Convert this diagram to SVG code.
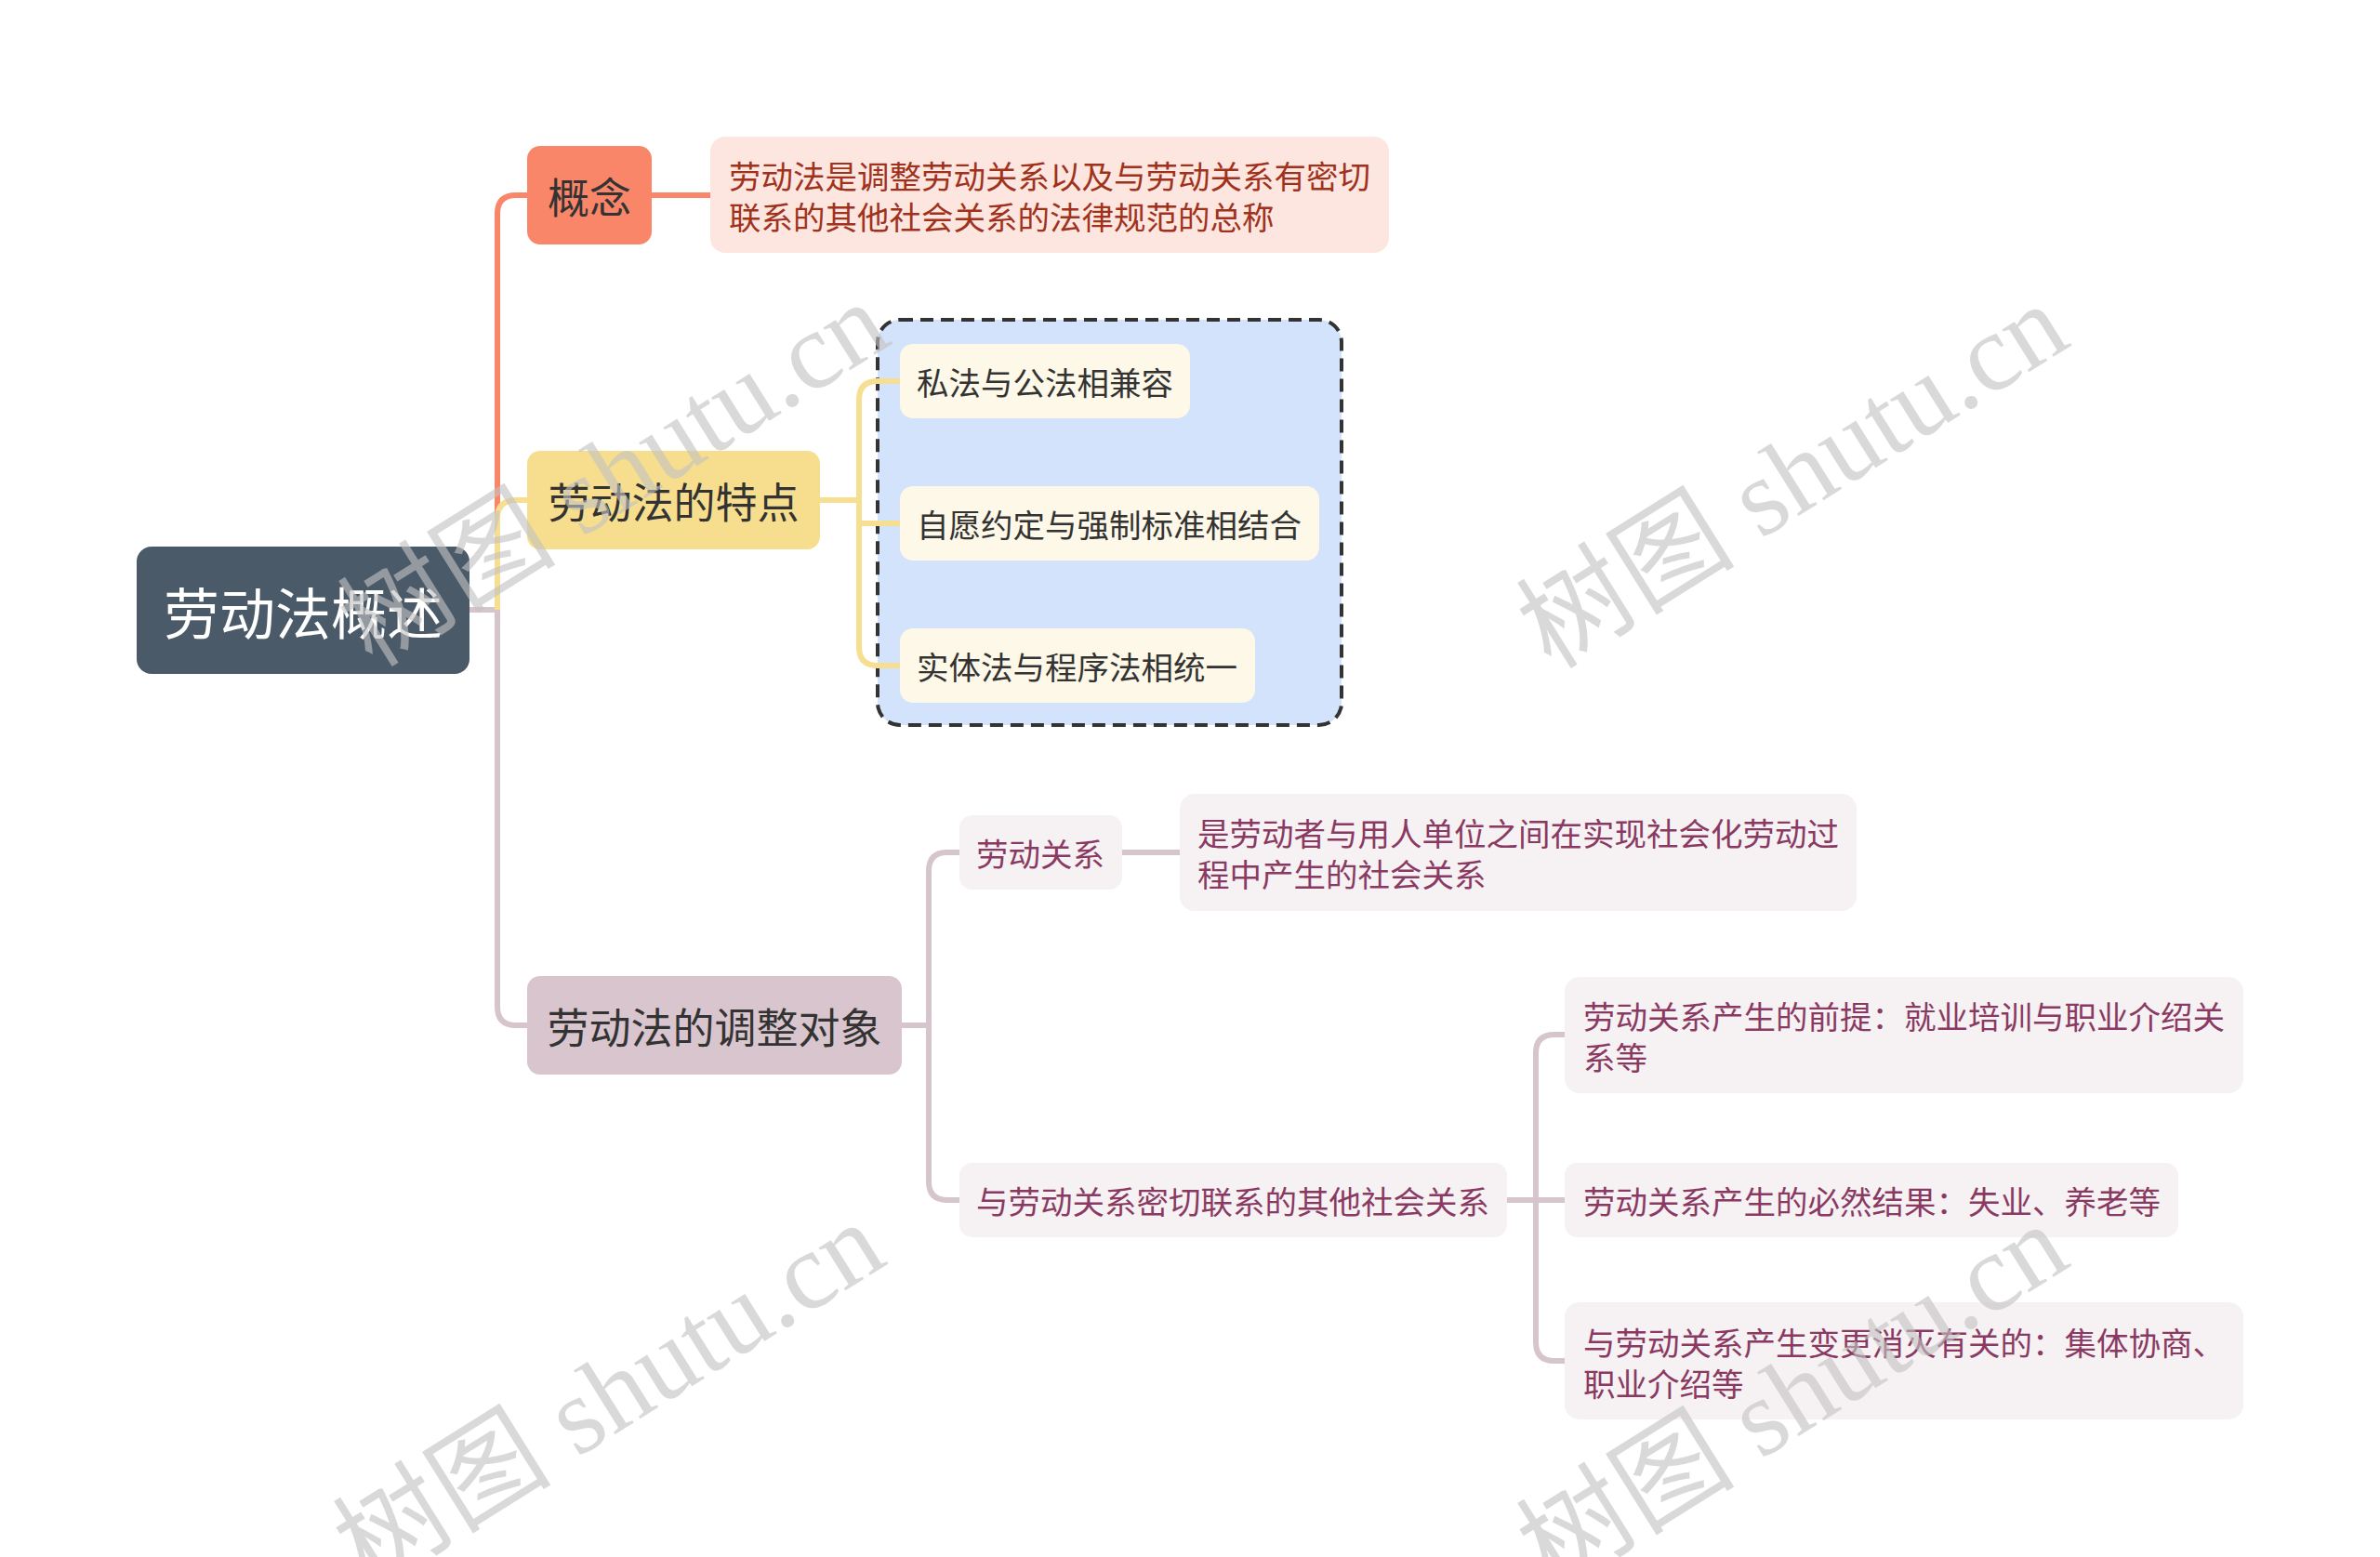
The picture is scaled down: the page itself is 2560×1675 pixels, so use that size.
<svg xmlns="http://www.w3.org/2000/svg" width="2560" height="1675" viewBox="0 0 2560 1675">
<style>
text{font-family:"Noto Sans CJK SC","Noto Sans",sans-serif;dominant-baseline:central}
.root{fill:#4b5a68}
.rootT{fill:#ffffff;font-size:60px;text-anchor:middle}
.l1T{fill:#333333;font-size:45px;text-anchor:middle}
.l2T{font-size:34.5px}
.c{fill:none;stroke-width:6;stroke-linecap:butt;stroke-linejoin:round}
.sal{stroke:#fa8669}
.yel{stroke:#f7df92}
.mau{stroke:#d7c5cd}
.wm{font-family:"Liberation Serif","Noto Sans CJK SC",serif;font-size:118px;fill:#c2c2c2;fill-opacity:0.62;text-anchor:middle;dominant-baseline:alphabetic}
</style>
<rect width="2560" height="1675" fill="#ffffff"/>

<g id="boundary">
<rect x="944" y="344" width="499" height="436" rx="24" fill="#d4e3fc" stroke="#333333" stroke-width="4" stroke-dasharray="14 8"/>
</g>

<g id="connectors">
<path class="c mau" d="M505,656 H535"/>
<path class="c sal" d="M535,656 V230 Q535,210 555,210 H567"/>
<path class="c yel" d="M535,656 V558 Q535,538 555,538 H567"/>
<path class="c mau" d="M535,656 V1083 Q535,1103 555,1103 H567"/>
<path class="c sal" d="M701,210 H764"/>
<path class="c yel" d="M882,538 H924"/>
<path class="c yel" d="M968,410 H944 Q924,410 924,430 V696 Q924,716 944,716 H968"/>
<path class="c yel" d="M924,563 H968"/>
<path class="c mau" d="M970,1103 H999"/>
<path class="c mau" d="M1032,917 H1019 Q999,917 999,937 V1271 Q999,1291 1019,1291 H1032"/>
<path class="c mau" d="M1207,917 H1269"/>
<path class="c mau" d="M1621,1291 H1652"/>
<path class="c mau" d="M1683,1113 H1672 Q1652,1113 1652,1133 V1444 Q1652,1464 1672,1464 H1683"/>
<path class="c mau" d="M1652,1291 H1683"/>
</g>

<g id="root">
<rect class="root" x="147" y="588" width="358" height="137" rx="16"/>
<text class="rootT" x="326" y="656">劳动法概述</text>
</g>

<g id="n-gainian">
<rect x="567" y="157" width="134" height="106" rx="14" fill="#fa8669"/>
<text class="l1T" x="634" y="210">概念</text>
</g>
<g id="n-gainian-def">
<rect x="764" y="147" width="730" height="125" rx="16" fill="#fde6e0"/>
<text class="l2T" fill="#a0321c" x="784" y="188">劳动法是调整劳动关系以及与劳动关系有密切</text>
<text class="l2T" fill="#a0321c" x="784" y="232">联系的其他社会关系的法律规范的总称</text>
</g>

<g id="n-tedian">
<rect x="567" y="485" width="315" height="106" rx="14" fill="#f7de8f"/>
<text class="l1T" x="724.5" y="538">劳动法的特点</text>
</g>
<g id="n-t1">
<rect x="968" y="370" width="312" height="80" rx="14" fill="#fdf8e7"/>
<text class="l2T" fill="#333333" x="986" y="410">私法与公法相兼容</text>
</g>
<g id="n-t2">
<rect x="968" y="523" width="451" height="80" rx="14" fill="#fdf8e7"/>
<text class="l2T" fill="#333333" x="986" y="563">自愿约定与强制标准相结合</text>
</g>
<g id="n-t3">
<rect x="968" y="676" width="382" height="80" rx="14" fill="#fdf8e7"/>
<text class="l2T" fill="#333333" x="986" y="716">实体法与程序法相统一</text>
</g>

<g id="n-duixiang">
<rect x="567" y="1050" width="403" height="106" rx="14" fill="#d8c5cd"/>
<text class="l1T" x="768.5" y="1103">劳动法的调整对象</text>
</g>
<g id="n-ldgx">
<rect x="1032" y="877" width="175" height="80" rx="14" fill="#f6f1f3"/>
<text class="l2T" fill="#8a3a62" x="1050" y="917">劳动关系</text>
</g>
<g id="n-ldgx-def">
<rect x="1269" y="854" width="728" height="126" rx="16" fill="#f6f1f3"/>
<text class="l2T" fill="#8a3a62" x="1288" y="895">是劳动者与用人单位之间在实现社会化劳动过</text>
<text class="l2T" fill="#8a3a62" x="1288" y="939">程中产生的社会关系</text>
</g>
<g id="n-qita">
<rect x="1032" y="1251" width="589" height="80" rx="14" fill="#f6f1f3"/>
<text class="l2T" fill="#8a3a62" x="1050" y="1291">与劳动关系密切联系的其他社会关系</text>
</g>
<g id="n-q1">
<rect x="1683" y="1051" width="730" height="125" rx="16" fill="#f6f1f3"/>
<text class="l2T" fill="#8a3a62" x="1703" y="1092">劳动关系产生的前提：就业培训与职业介绍关</text>
<text class="l2T" fill="#8a3a62" x="1703" y="1136">系等</text>
</g>
<g id="n-q2">
<rect x="1683" y="1251" width="660" height="80" rx="14" fill="#f6f1f3"/>
<text class="l2T" fill="#8a3a62" x="1703" y="1291">劳动关系产生的必然结果：失业、养老等</text>
</g>
<g id="n-q3">
<rect x="1683" y="1401" width="730" height="126" rx="16" fill="#f6f1f3"/>
<text class="l2T" fill="#8a3a62" x="1703" y="1443">与劳动关系产生变更消灭有关的：集体协商、</text>
<text class="l2T" fill="#8a3a62" x="1703" y="1487">职业介绍等</text>
</g>

<g id="watermarks">
<text class="wm" transform="translate(660,510) rotate(-32)" x="0" y="40">树图 shutu.cn</text>
<text class="wm" transform="translate(1928,512) rotate(-32)" x="0" y="40">树图 shutu.cn</text>
<text class="wm" transform="translate(655,1500) rotate(-32)" x="0" y="40">树图 shutu.cn</text>
<text class="wm" transform="translate(1928,1502) rotate(-32)" x="0" y="40">树图 shutu.cn</text>
</g>
</svg>
